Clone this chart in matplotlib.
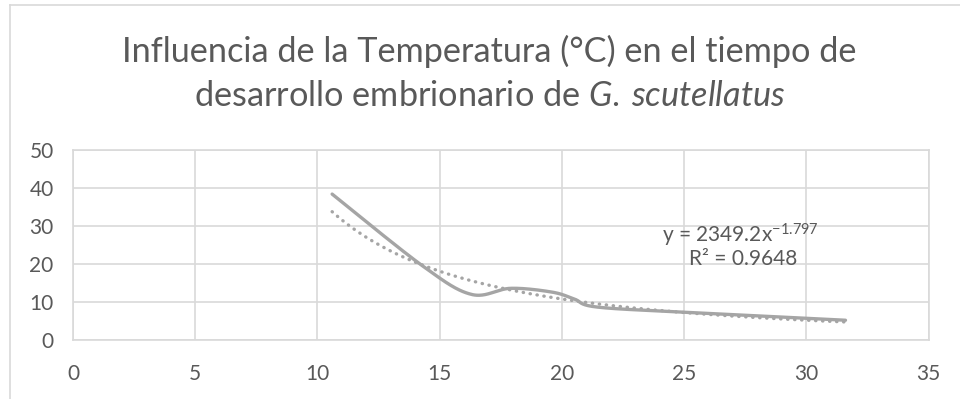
import numpy as np
import matplotlib
matplotlib.use("Agg")
import matplotlib.pyplot as plt
from matplotlib.lines import Line2D

# ---- data ----
temperature = [10.6, 14.3, 16.3, 17.9, 19.6, 20.5, 21.4, 25.0, 31.6]
dev_time = [38.4, 19.5, 12.0, 13.6, 12.6, 10.8, 8.7, 7.3, 5.2]
fit_a = 2349.2
fit_b = -1.797
r_squared = 0.9648
x_ticks = [0, 5, 10, 15, 20, 25, 30, 35]
y_ticks = [0, 10, 20, 30, 40, 50]

plt.rcParams['font.family'] = ['Lato', 'DejaVu Sans']
plt.rcParams['mathtext.fontset'] = 'custom'
plt.rcParams['mathtext.rm'] = 'Lato'
plt.rcParams['mathtext.it'] = 'Lato:italic'

TXT = '#595959'
GRID = '#d9d9d9'
LINE = '#a5a5a5'


def excel_smooth(xs, ys, n=40):
    xs = np.asarray(xs, float)
    ys = np.asarray(ys, float)
    P = np.column_stack([xs, ys])
    out = []
    for i in range(len(P) - 1):
        p0 = P[i - 1] if i > 0 else P[i]
        p1 = P[i]
        p2 = P[i + 1]
        p3 = P[i + 2] if i + 2 < len(P) else P[i + 1]
        c1 = p1 + (p2 - p0) / 6.0
        c2 = p2 - (p3 - p1) / 6.0
        t = np.linspace(0, 1, n)[:, None]
        seg = ((1 - t) ** 3) * p1 + 3 * ((1 - t) ** 2) * t * c1 + 3 * (1 - t) * t ** 2 * c2 + t ** 3 * p2
        out.append(seg if i == 0 else seg[1:])
    arr = np.vstack(out)
    return arr[:, 0], arr[:, 1]


fig = plt.figure(figsize=(9.6, 3.99), dpi=100)
ax = fig.add_axes([73 / 960, 1 - 340 / 399, (928.6 - 73) / 960, (340 - 150) / 399])

sx, sy = excel_smooth(temperature, dev_time)
ax.plot(sx, sy, color=LINE, lw=2.4, solid_capstyle='round', zorder=3)

fx = np.linspace(min(temperature), max(temperature), 200)
fy = fit_a * fx ** fit_b
ax.plot(fx, fy, color=LINE, lw=2.4, linestyle=(0, (0.1, 2.0)), dash_capstyle='round', zorder=2)

ax.set_xlim(0, 35)
ax.set_ylim(0, 50)
ax.set_xticks(x_ticks)
ax.set_yticks(y_ticks)
ax.grid(True, color=GRID, lw=1.2)
for s in ax.spines.values():
    s.set_color(GRID)
    s.set_linewidth(1.2)
ax.tick_params(length=0, colors=TXT, labelsize=15)
ax.tick_params(axis='x', pad=17)
ax.tick_params(axis='y', pad=14)

ax.text(27.3, 27.4, r'y = 2349.2x$^{-1.797}$', color=TXT, fontsize=15, ha='center', va='center')
ax.text(27.4, 21.4, 'R² = 0.9648', color=TXT, fontsize=15, ha='center', va='center')

fig.text(489.5 / 960, 1 - 62 / 399, 'Influencia de la Temperatura (°C) en el tiempo de',
         color=TXT, fontsize=24.7, ha='center', va='baseline')
fig.text(489.5 / 960, 1 - 106 / 399, r'desarrollo embrionario de $\mathit{G.}\:\mathit{scutellatus}$',
         color=TXT, fontsize=24.7, ha='center', va='baseline')

# chart border
fig.add_artist(Line2D([10 / 960, 10 / 960], [0, 1 - 5 / 399], color=GRID, lw=1.2, transform=fig.transFigure))
fig.add_artist(Line2D([10 / 960, 1], [1 - 5 / 399, 1 - 5 / 399], color=GRID, lw=1.2, transform=fig.transFigure))

fig.savefig('out.png', dpi=100, facecolor='white')
